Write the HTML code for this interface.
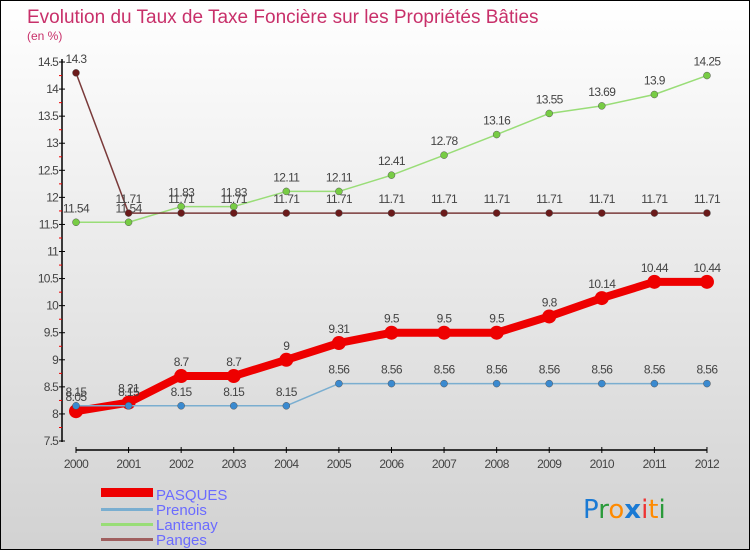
<!DOCTYPE html>
<html><head><meta charset="utf-8"><style>
body{margin:0}
#c{width:750px;height:550px;position:relative;background:linear-gradient(#ffffff,#d2d2d2);box-sizing:border-box;border:1px solid #000;overflow:hidden;font-family:"Liberation Sans",sans-serif}
</style></head><body>
<div id="c">
<svg id="s" width="750" height="550" style="position:absolute;left:0;top:0">
<text x="26" y="22" font-size="19" fill="#c8306a">Evolution du Taux de Taxe Foncière sur les Propriétés Bâties</text>
<text x="26" y="39" font-size="12" fill="#c8306a">(en %)</text>
<g id="axes"></g><g id="series"></g>
<g>
<rect x="100" y="487" width="52" height="9" fill="#e00"/>
<text x="155" y="499" font-size="15" fill="#6b6bff">PASQUES</text>
<rect x="100" y="507" width="52" height="3" fill="#7aaed0"/>
<text x="155" y="514" font-size="15" fill="#6b6bff">Prenois</text>
<rect x="100" y="522" width="52" height="3" fill="#99dd77"/>
<text x="155" y="529" font-size="15" fill="#6b6bff">Lantenay</text>
<rect x="100" y="537" width="52" height="3" fill="#a06060"/>
<text x="155" y="544" font-size="15" fill="#6b6bff">Panges</text>
</g>
<g font-size="26" font-family="'DejaVu Sans',sans-serif">
<text x="582" y="517"><tspan fill="#1a7ad4">P</tspan><tspan fill="#2a9a3a">r</tspan><tspan fill="#ff8a00">o</tspan><tspan fill="#1a7ad4" font-weight="bold">x</tspan><tspan fill="#e33">i</tspan><tspan fill="#ff8a00">t</tspan><tspan fill="#2a9a3a">i</tspan></text>
</g>
</svg>
</div>
<script>
const years=["2000","2001","2002","2003","2004","2005","2006","2007","2008","2009","2010","2011","2012"];
const pasques=[8.05,8.21,8.7,8.7,9,9.31,9.5,9.5,9.5,9.8,10.14,10.44,10.44];
const prenois=[8.15,8.15,8.15,8.15,8.15,8.56,8.56,8.56,8.56,8.56,8.56,8.56,8.56];
const lantenay=[11.54,11.54,11.83,11.83,12.11,12.11,12.41,12.78,13.16,13.55,13.69,13.9,14.25];
const panges=[14.3,11.71,11.71,11.71,11.71,11.71,11.71,11.71,11.71,11.71,11.71,11.71,11.71];
const yTicks=[7.5,8,8.5,9,9.5,10,10.5,11,11.5,12,12.5,13,13.5,14,14.5];
const NS="http://www.w3.org/2000/svg";
const X=i=>75+i*52.58;
const Y=v=>440-(v-7.5)*54.14;
function mk(t,a,p){const e=document.createElementNS(NS,t);for(const k in a)e.setAttribute(k,a[k]);p.appendChild(e);return e;}
const ax=document.getElementById('axes'),sg=document.getElementById('series');
let l=mk('line',{x1:61,y1:58,x2:61,y2:441,stroke:'#000','stroke-width':1.5},ax);


l=mk('line',{x1:75,y1:449,x2:706,y2:449,stroke:'#000','stroke-width':1.5},ax);


yTicks.forEach((v,i)=>{
 const y=Y(v);
 mk('line',{x1:58,y1:y,x2:64,y2:y,stroke:'#000'},ax);
 if(i<yTicks.length-1) mk('line',{x1:58,y1:y-13.5,x2:61,y2:y-13.5,stroke:'#e00'},ax);
 const t=mk('text',{x:57,y:y+4,'font-size':12,fill:'#444','text-anchor':'end','letter-spacing':'-0.8'},ax);
 t.textContent=String(v);
 
 
});
years.forEach((yr,i)=>{
 mk('line',{x1:X(i),y1:446,x2:X(i),y2:452,stroke:'#000'},ax);
 const t=mk('text',{x:X(i),y:467,'font-size':12,fill:'#444','text-anchor':'middle','letter-spacing':'-0.6'},ax);
 t.textContent=yr;
 
 
});
function series(d,name,col,dot,w,r){
 const g=mk('g',{},sg);
 
 
 const p=mk('polyline',{points:d.map((v,i)=>X(i)+','+Y(v)).join(' '),fill:'none',stroke:col,'stroke-width':w,'stroke-linejoin':'round'},g);
 
 
 d.forEach((v,i)=>{
  const c=mk('circle',{cx:X(i),cy:Y(v),r:r,fill:dot,stroke:r>5?'none':'#555','stroke-width':0.5},g);
  
  
  const t=mk('text',{x:X(i),y:Y(v)-10,'font-size':12,fill:'#444','text-anchor':'middle','letter-spacing':'-0.6'},g);
  t.textContent=String(v);
  
  
 });
}
series(lantenay,'lantenay','#99dd77','#77cc44',1.5,3.5);
series(panges,'panges','#7a3a3a','#6a1a1a',1.5,3.5);
series(pasques,'pasques','#ee0000','#ee0000',8,7);
series(prenois,'prenois','#7aaed0','#3a8ad0',1.5,3.5);
</script>
</body></html>
